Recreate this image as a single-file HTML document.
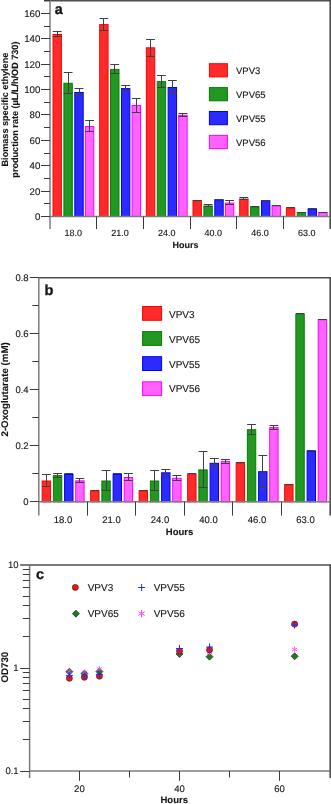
<!DOCTYPE html>
<html><head><meta charset="utf-8"><title>Figure</title>
<style>
html,body{margin:0;padding:0;background:#fff;width:331px;height:804px;overflow:hidden;}
svg{display:block;font-family:"Liberation Sans", sans-serif;will-change:transform;text-rendering:geometricPrecision;}
</style></head><body>
<svg width="331" height="804" viewBox="0 0 331 804">
<rect width="331" height="804" fill="#fff"/>
<rect x="53.00" y="34.50" width="8.40" height="182.00" fill="#ff2b2b" stroke="#ff0000" stroke-width="1"/>
<rect x="63.90" y="83.30" width="8.40" height="133.20" fill="#229722" stroke="#038003" stroke-width="1"/>
<rect x="74.80" y="92.50" width="8.40" height="124.00" fill="#2b2bff" stroke="#0000f0" stroke-width="1"/>
<rect x="85.40" y="126.50" width="8.40" height="90.00" fill="#ff62ff" stroke="#ff00ff" stroke-width="1"/>
<rect x="99.67" y="24.60" width="8.40" height="191.90" fill="#ff2b2b" stroke="#ff0000" stroke-width="1"/>
<rect x="110.57" y="69.40" width="8.40" height="147.10" fill="#229722" stroke="#038003" stroke-width="1"/>
<rect x="121.47" y="88.60" width="8.40" height="127.90" fill="#2b2bff" stroke="#0000f0" stroke-width="1"/>
<rect x="132.07" y="105.50" width="8.40" height="111.00" fill="#ff62ff" stroke="#ff00ff" stroke-width="1"/>
<rect x="146.33" y="47.80" width="8.40" height="168.70" fill="#ff2b2b" stroke="#ff0000" stroke-width="1"/>
<rect x="157.23" y="81.60" width="8.40" height="134.90" fill="#229722" stroke="#038003" stroke-width="1"/>
<rect x="168.13" y="87.50" width="8.40" height="129.00" fill="#2b2bff" stroke="#0000f0" stroke-width="1"/>
<rect x="178.73" y="115.30" width="8.40" height="101.20" fill="#ff62ff" stroke="#ff00ff" stroke-width="1"/>
<rect x="193.00" y="200.70" width="8.40" height="15.80" fill="#ff2b2b" stroke="#ff0000" stroke-width="1"/>
<rect x="203.90" y="206.00" width="8.40" height="10.50" fill="#229722" stroke="#038003" stroke-width="1"/>
<rect x="214.80" y="199.90" width="8.40" height="16.60" fill="#2b2bff" stroke="#0000f0" stroke-width="1"/>
<rect x="225.40" y="203.10" width="8.40" height="13.40" fill="#ff62ff" stroke="#ff00ff" stroke-width="1"/>
<rect x="239.67" y="199.10" width="8.40" height="17.40" fill="#ff2b2b" stroke="#ff0000" stroke-width="1"/>
<rect x="250.57" y="207.00" width="8.40" height="9.50" fill="#229722" stroke="#038003" stroke-width="1"/>
<rect x="261.47" y="200.70" width="8.40" height="15.80" fill="#2b2bff" stroke="#0000f0" stroke-width="1"/>
<rect x="272.07" y="205.90" width="8.40" height="10.60" fill="#ff62ff" stroke="#ff00ff" stroke-width="1"/>
<rect x="286.33" y="208.20" width="8.40" height="8.30" fill="#ff2b2b" stroke="#ff0000" stroke-width="1"/>
<rect x="297.23" y="212.50" width="8.40" height="4.00" fill="#229722" stroke="#038003" stroke-width="1"/>
<rect x="308.13" y="209.10" width="8.40" height="7.40" fill="#2b2bff" stroke="#0000f0" stroke-width="1"/>
<rect x="318.73" y="212.70" width="8.40" height="3.80" fill="#ff62ff" stroke="#ff00ff" stroke-width="1"/>
<line x1="52.80" y1="31.50" x2="61.60" y2="31.50" stroke="#404040" stroke-width="1.0"/>
<line x1="52.80" y1="36.50" x2="61.60" y2="36.50" stroke="#404040" stroke-width="1.0"/>
<line x1="57.50" y1="31.50" x2="57.50" y2="36.50" stroke="#404040" stroke-width="1.0"/>
<line x1="63.70" y1="72.50" x2="72.50" y2="72.50" stroke="#404040" stroke-width="1.0"/>
<line x1="63.70" y1="93.50" x2="72.50" y2="93.50" stroke="#404040" stroke-width="1.0"/>
<line x1="68.50" y1="72.50" x2="68.50" y2="93.50" stroke="#404040" stroke-width="1.0"/>
<line x1="74.60" y1="88.50" x2="83.40" y2="88.50" stroke="#404040" stroke-width="1.0"/>
<line x1="74.60" y1="95.50" x2="83.40" y2="95.50" stroke="#404040" stroke-width="1.0"/>
<line x1="79.50" y1="88.50" x2="79.50" y2="95.50" stroke="#404040" stroke-width="1.0"/>
<line x1="85.20" y1="120.50" x2="94.00" y2="120.50" stroke="#404040" stroke-width="1.0"/>
<line x1="85.20" y1="131.50" x2="94.00" y2="131.50" stroke="#404040" stroke-width="1.0"/>
<line x1="89.50" y1="120.50" x2="89.50" y2="131.50" stroke="#404040" stroke-width="1.0"/>
<line x1="99.47" y1="18.50" x2="108.27" y2="18.50" stroke="#404040" stroke-width="1.0"/>
<line x1="99.47" y1="30.50" x2="108.27" y2="30.50" stroke="#404040" stroke-width="1.0"/>
<line x1="103.50" y1="18.50" x2="103.50" y2="30.50" stroke="#404040" stroke-width="1.0"/>
<line x1="110.37" y1="64.50" x2="119.17" y2="64.50" stroke="#404040" stroke-width="1.0"/>
<line x1="110.37" y1="73.50" x2="119.17" y2="73.50" stroke="#404040" stroke-width="1.0"/>
<line x1="114.50" y1="64.50" x2="114.50" y2="73.50" stroke="#404040" stroke-width="1.0"/>
<line x1="121.27" y1="85.50" x2="130.07" y2="85.50" stroke="#404040" stroke-width="1.0"/>
<line x1="121.27" y1="90.50" x2="130.07" y2="90.50" stroke="#404040" stroke-width="1.0"/>
<line x1="125.50" y1="85.50" x2="125.50" y2="90.50" stroke="#404040" stroke-width="1.0"/>
<line x1="131.87" y1="98.50" x2="140.67" y2="98.50" stroke="#404040" stroke-width="1.0"/>
<line x1="131.87" y1="112.50" x2="140.67" y2="112.50" stroke="#404040" stroke-width="1.0"/>
<line x1="136.50" y1="98.50" x2="136.50" y2="112.50" stroke="#404040" stroke-width="1.0"/>
<line x1="146.13" y1="39.50" x2="154.93" y2="39.50" stroke="#404040" stroke-width="1.0"/>
<line x1="146.13" y1="56.50" x2="154.93" y2="56.50" stroke="#404040" stroke-width="1.0"/>
<line x1="150.50" y1="39.50" x2="150.50" y2="56.50" stroke="#404040" stroke-width="1.0"/>
<line x1="157.03" y1="75.50" x2="165.83" y2="75.50" stroke="#404040" stroke-width="1.0"/>
<line x1="157.03" y1="87.50" x2="165.83" y2="87.50" stroke="#404040" stroke-width="1.0"/>
<line x1="161.50" y1="75.50" x2="161.50" y2="87.50" stroke="#404040" stroke-width="1.0"/>
<line x1="167.93" y1="80.50" x2="176.73" y2="80.50" stroke="#404040" stroke-width="1.0"/>
<line x1="167.93" y1="93.50" x2="176.73" y2="93.50" stroke="#404040" stroke-width="1.0"/>
<line x1="172.50" y1="80.50" x2="172.50" y2="93.50" stroke="#404040" stroke-width="1.0"/>
<line x1="178.53" y1="113.50" x2="187.33" y2="113.50" stroke="#404040" stroke-width="1.0"/>
<line x1="178.53" y1="116.50" x2="187.33" y2="116.50" stroke="#404040" stroke-width="1.0"/>
<line x1="182.50" y1="113.50" x2="182.50" y2="116.50" stroke="#404040" stroke-width="1.0"/>
<line x1="192.80" y1="200.50" x2="201.60" y2="200.50" stroke="#404040" stroke-width="1.0"/>
<line x1="203.70" y1="204.50" x2="212.50" y2="204.50" stroke="#404040" stroke-width="1.0"/>
<line x1="203.70" y1="206.50" x2="212.50" y2="206.50" stroke="#404040" stroke-width="1.0"/>
<line x1="208.50" y1="204.50" x2="208.50" y2="206.50" stroke="#404040" stroke-width="1.0"/>
<line x1="214.60" y1="199.50" x2="223.40" y2="199.50" stroke="#404040" stroke-width="1.0"/>
<line x1="225.20" y1="200.50" x2="234.00" y2="200.50" stroke="#404040" stroke-width="1.0"/>
<line x1="225.20" y1="204.50" x2="234.00" y2="204.50" stroke="#404040" stroke-width="1.0"/>
<line x1="229.50" y1="200.50" x2="229.50" y2="204.50" stroke="#404040" stroke-width="1.0"/>
<line x1="239.47" y1="197.50" x2="248.27" y2="197.50" stroke="#404040" stroke-width="1.0"/>
<line x1="239.47" y1="199.50" x2="248.27" y2="199.50" stroke="#404040" stroke-width="1.0"/>
<line x1="243.50" y1="197.50" x2="243.50" y2="199.50" stroke="#404040" stroke-width="1.0"/>
<line x1="250.37" y1="206.50" x2="259.17" y2="206.50" stroke="#404040" stroke-width="1.0"/>
<line x1="261.27" y1="200.50" x2="270.07" y2="200.50" stroke="#404040" stroke-width="1.0"/>
<line x1="271.87" y1="205.50" x2="280.67" y2="205.50" stroke="#404040" stroke-width="1.0"/>
<line x1="286.13" y1="207.50" x2="294.93" y2="207.50" stroke="#404040" stroke-width="1.0"/>
<line x1="297.03" y1="212.50" x2="305.83" y2="212.50" stroke="#404040" stroke-width="1.0"/>
<line x1="307.93" y1="208.50" x2="316.73" y2="208.50" stroke="#404040" stroke-width="1.0"/>
<line x1="318.53" y1="212.50" x2="327.33" y2="212.50" stroke="#404040" stroke-width="1.0"/>
<line x1="44.00" y1="0.80" x2="331.00" y2="0.80" stroke="#4e4e4e" stroke-width="1.6"/>
<line x1="330.20" y1="0.00" x2="330.20" y2="229.00" stroke="#4e4e4e" stroke-width="1.6"/>
<line x1="50.00" y1="0.00" x2="50.00" y2="229.00" stroke="#7c7c7c" stroke-width="1.5"/>
<line x1="50.00" y1="216.50" x2="330.00" y2="216.50" stroke="#7c7c7c" stroke-width="1.5"/>
<line x1="41.00" y1="216.50" x2="50.00" y2="216.50" stroke="#3a3a3a" stroke-width="1.0"/>
<text x="40.30" y="219.90" font-size="9.7" text-anchor="end" stroke="#161616" stroke-width="0.12" fill="#161616">0</text>
<line x1="44.00" y1="203.50" x2="50.00" y2="203.50" stroke="#3a3a3a" stroke-width="1.0"/>
<line x1="41.00" y1="191.50" x2="50.00" y2="191.50" stroke="#3a3a3a" stroke-width="1.0"/>
<text x="40.30" y="194.50" font-size="9.7" text-anchor="end" stroke="#161616" stroke-width="0.12" fill="#161616">20</text>
<line x1="44.00" y1="178.50" x2="50.00" y2="178.50" stroke="#3a3a3a" stroke-width="1.0"/>
<line x1="41.00" y1="165.50" x2="50.00" y2="165.50" stroke="#3a3a3a" stroke-width="1.0"/>
<text x="40.30" y="169.10" font-size="9.7" text-anchor="end" stroke="#161616" stroke-width="0.12" fill="#161616">40</text>
<line x1="44.00" y1="153.50" x2="50.00" y2="153.50" stroke="#3a3a3a" stroke-width="1.0"/>
<line x1="41.00" y1="140.50" x2="50.00" y2="140.50" stroke="#3a3a3a" stroke-width="1.0"/>
<text x="40.30" y="143.70" font-size="9.7" text-anchor="end" stroke="#161616" stroke-width="0.12" fill="#161616">60</text>
<line x1="44.00" y1="127.50" x2="50.00" y2="127.50" stroke="#3a3a3a" stroke-width="1.0"/>
<line x1="41.00" y1="114.50" x2="50.00" y2="114.50" stroke="#3a3a3a" stroke-width="1.0"/>
<text x="40.30" y="118.30" font-size="9.7" text-anchor="end" stroke="#161616" stroke-width="0.12" fill="#161616">80</text>
<line x1="44.00" y1="102.50" x2="50.00" y2="102.50" stroke="#3a3a3a" stroke-width="1.0"/>
<line x1="41.00" y1="89.50" x2="50.00" y2="89.50" stroke="#3a3a3a" stroke-width="1.0"/>
<text x="40.30" y="92.90" font-size="9.7" text-anchor="end" stroke="#161616" stroke-width="0.12" fill="#161616">100</text>
<line x1="44.00" y1="76.50" x2="50.00" y2="76.50" stroke="#3a3a3a" stroke-width="1.0"/>
<line x1="41.00" y1="64.50" x2="50.00" y2="64.50" stroke="#3a3a3a" stroke-width="1.0"/>
<text x="40.30" y="67.50" font-size="9.7" text-anchor="end" stroke="#161616" stroke-width="0.12" fill="#161616">120</text>
<line x1="44.00" y1="51.50" x2="50.00" y2="51.50" stroke="#3a3a3a" stroke-width="1.0"/>
<line x1="41.00" y1="38.50" x2="50.00" y2="38.50" stroke="#3a3a3a" stroke-width="1.0"/>
<text x="40.30" y="42.10" font-size="9.7" text-anchor="end" stroke="#161616" stroke-width="0.12" fill="#161616">140</text>
<line x1="44.00" y1="26.50" x2="50.00" y2="26.50" stroke="#3a3a3a" stroke-width="1.0"/>
<line x1="41.00" y1="13.50" x2="50.00" y2="13.50" stroke="#3a3a3a" stroke-width="1.0"/>
<text x="40.30" y="16.70" font-size="9.7" text-anchor="end" stroke="#161616" stroke-width="0.12" fill="#161616">160</text>
<line x1="44.00" y1="0.50" x2="50.00" y2="0.50" stroke="#3a3a3a" stroke-width="1.0"/>
<line x1="96.50" y1="216.50" x2="96.50" y2="229.00" stroke="#3a3a3a" stroke-width="1.0"/>
<line x1="143.50" y1="216.50" x2="143.50" y2="229.00" stroke="#3a3a3a" stroke-width="1.0"/>
<line x1="190.50" y1="216.50" x2="190.50" y2="229.00" stroke="#3a3a3a" stroke-width="1.0"/>
<line x1="236.50" y1="216.50" x2="236.50" y2="229.00" stroke="#3a3a3a" stroke-width="1.0"/>
<line x1="283.50" y1="216.50" x2="283.50" y2="229.00" stroke="#3a3a3a" stroke-width="1.0"/>
<text x="73.33" y="236.30" font-size="9" text-anchor="middle" stroke="#161616" stroke-width="0.12" fill="#161616">18.0</text>
<text x="120.00" y="236.30" font-size="9" text-anchor="middle" stroke="#161616" stroke-width="0.12" fill="#161616">21.0</text>
<text x="166.67" y="236.30" font-size="9" text-anchor="middle" stroke="#161616" stroke-width="0.12" fill="#161616">24.0</text>
<text x="213.33" y="236.30" font-size="9" text-anchor="middle" stroke="#161616" stroke-width="0.12" fill="#161616">40.0</text>
<text x="260.00" y="236.30" font-size="9" text-anchor="middle" stroke="#161616" stroke-width="0.12" fill="#161616">46.0</text>
<text x="306.67" y="236.30" font-size="9" text-anchor="middle" stroke="#161616" stroke-width="0.12" fill="#161616">63.0</text>
<text x="185.40" y="248.10" font-size="9" text-anchor="middle" font-weight="bold" stroke="#161616" stroke-width="0.12" fill="#161616">Hours</text>
<text x="54.80" y="14.00" font-size="14.4" text-anchor="start" font-weight="bold" stroke="#161616" stroke-width="0.3" fill="#161616">a</text>
<text x="7.90" y="109.60" font-size="9.1" text-anchor="middle" font-weight="bold" transform="rotate(-90 7.90 109.60)" stroke="#161616" stroke-width="0.12" fill="#161616">Biomass specific ethylene</text>
<text x="18.10" y="109.60" font-size="9.1" text-anchor="middle" font-weight="bold" transform="rotate(-90 18.10 109.60)" stroke="#161616" stroke-width="0.12" fill="#161616">production rate (µL/L/h/OD 730)</text>
<rect x="209.40" y="63.70" width="18.00" height="13.20" fill="#ff2b2b" stroke="#ff0000" stroke-width="1"/>
<text x="236.00" y="73.80" font-size="9.5" text-anchor="start" stroke="#161616" stroke-width="0.12" fill="#161616">VPV3</text>
<rect x="209.40" y="87.60" width="18.00" height="13.20" fill="#229722" stroke="#038003" stroke-width="1"/>
<text x="236.00" y="97.80" font-size="9.5" text-anchor="start" stroke="#161616" stroke-width="0.12" fill="#161616">VPV65</text>
<rect x="209.40" y="111.50" width="18.00" height="13.20" fill="#2b2bff" stroke="#0000f0" stroke-width="1"/>
<text x="236.00" y="121.80" font-size="9.5" text-anchor="start" stroke="#161616" stroke-width="0.12" fill="#161616">VPV55</text>
<rect x="209.40" y="135.40" width="18.00" height="13.20" fill="#ff62ff" stroke="#ff00ff" stroke-width="1"/>
<text x="236.00" y="145.80" font-size="9.5" text-anchor="start" stroke="#161616" stroke-width="0.12" fill="#161616">VPV56</text>
<rect x="42.15" y="481.00" width="8.40" height="20.80" fill="#ff2b2b" stroke="#ff0000" stroke-width="1"/>
<rect x="53.35" y="475.60" width="8.40" height="26.20" fill="#229722" stroke="#038003" stroke-width="1"/>
<rect x="64.60" y="474.40" width="8.40" height="27.40" fill="#2b2bff" stroke="#0000f0" stroke-width="1"/>
<rect x="75.70" y="480.80" width="8.40" height="21.00" fill="#ff62ff" stroke="#ff00ff" stroke-width="1"/>
<rect x="90.65" y="491.10" width="8.40" height="10.70" fill="#ff2b2b" stroke="#ff0000" stroke-width="1"/>
<rect x="101.85" y="481.00" width="8.40" height="20.80" fill="#229722" stroke="#038003" stroke-width="1"/>
<rect x="113.10" y="474.40" width="8.40" height="27.40" fill="#2b2bff" stroke="#0000f0" stroke-width="1"/>
<rect x="124.20" y="477.50" width="8.40" height="24.30" fill="#ff62ff" stroke="#ff00ff" stroke-width="1"/>
<rect x="139.15" y="491.10" width="8.40" height="10.70" fill="#ff2b2b" stroke="#ff0000" stroke-width="1"/>
<rect x="150.35" y="481.00" width="8.40" height="20.80" fill="#229722" stroke="#038003" stroke-width="1"/>
<rect x="161.60" y="472.80" width="8.40" height="29.00" fill="#2b2bff" stroke="#0000f0" stroke-width="1"/>
<rect x="172.70" y="478.30" width="8.40" height="23.50" fill="#ff62ff" stroke="#ff00ff" stroke-width="1"/>
<rect x="187.65" y="474.30" width="8.40" height="27.50" fill="#ff2b2b" stroke="#ff0000" stroke-width="1"/>
<rect x="198.85" y="469.90" width="8.40" height="31.90" fill="#229722" stroke="#038003" stroke-width="1"/>
<rect x="210.10" y="463.30" width="8.40" height="38.50" fill="#2b2bff" stroke="#0000f0" stroke-width="1"/>
<rect x="221.20" y="461.40" width="8.40" height="40.40" fill="#ff62ff" stroke="#ff00ff" stroke-width="1"/>
<rect x="236.15" y="463.00" width="8.40" height="38.80" fill="#ff2b2b" stroke="#ff0000" stroke-width="1"/>
<rect x="247.35" y="429.70" width="8.40" height="72.10" fill="#229722" stroke="#038003" stroke-width="1"/>
<rect x="258.60" y="471.70" width="8.40" height="30.10" fill="#2b2bff" stroke="#0000f0" stroke-width="1"/>
<rect x="269.70" y="427.60" width="8.40" height="74.20" fill="#ff62ff" stroke="#ff00ff" stroke-width="1"/>
<rect x="284.65" y="484.70" width="8.40" height="17.10" fill="#ff2b2b" stroke="#ff0000" stroke-width="1"/>
<rect x="295.85" y="314.30" width="8.40" height="187.50" fill="#229722" stroke="#038003" stroke-width="1"/>
<rect x="307.10" y="451.30" width="8.40" height="50.50" fill="#2b2bff" stroke="#0000f0" stroke-width="1"/>
<rect x="318.20" y="319.70" width="8.40" height="182.10" fill="#ff62ff" stroke="#ff00ff" stroke-width="1"/>
<line x1="41.95" y1="474.50" x2="50.75" y2="474.50" stroke="#404040" stroke-width="1.0"/>
<line x1="41.95" y1="486.50" x2="50.75" y2="486.50" stroke="#404040" stroke-width="1.0"/>
<line x1="46.50" y1="474.50" x2="46.50" y2="486.50" stroke="#404040" stroke-width="1.0"/>
<line x1="53.15" y1="473.50" x2="61.95" y2="473.50" stroke="#404040" stroke-width="1.0"/>
<line x1="53.15" y1="477.50" x2="61.95" y2="477.50" stroke="#404040" stroke-width="1.0"/>
<line x1="57.50" y1="473.50" x2="57.50" y2="477.50" stroke="#404040" stroke-width="1.0"/>
<line x1="64.40" y1="473.50" x2="73.20" y2="473.50" stroke="#404040" stroke-width="1.0"/>
<line x1="75.50" y1="478.50" x2="84.30" y2="478.50" stroke="#404040" stroke-width="1.0"/>
<line x1="75.50" y1="482.50" x2="84.30" y2="482.50" stroke="#404040" stroke-width="1.0"/>
<line x1="79.50" y1="478.50" x2="79.50" y2="482.50" stroke="#404040" stroke-width="1.0"/>
<line x1="90.45" y1="490.50" x2="99.25" y2="490.50" stroke="#404040" stroke-width="1.0"/>
<line x1="101.65" y1="470.50" x2="110.45" y2="470.50" stroke="#404040" stroke-width="1.0"/>
<line x1="101.65" y1="490.50" x2="110.45" y2="490.50" stroke="#404040" stroke-width="1.0"/>
<line x1="106.50" y1="470.50" x2="106.50" y2="490.50" stroke="#404040" stroke-width="1.0"/>
<line x1="112.90" y1="473.50" x2="121.70" y2="473.50" stroke="#404040" stroke-width="1.0"/>
<line x1="124.00" y1="473.50" x2="132.80" y2="473.50" stroke="#404040" stroke-width="1.0"/>
<line x1="124.00" y1="480.50" x2="132.80" y2="480.50" stroke="#404040" stroke-width="1.0"/>
<line x1="128.50" y1="473.50" x2="128.50" y2="480.50" stroke="#404040" stroke-width="1.0"/>
<line x1="138.95" y1="490.50" x2="147.75" y2="490.50" stroke="#404040" stroke-width="1.0"/>
<line x1="150.15" y1="470.50" x2="158.95" y2="470.50" stroke="#404040" stroke-width="1.0"/>
<line x1="150.15" y1="490.50" x2="158.95" y2="490.50" stroke="#404040" stroke-width="1.0"/>
<line x1="154.50" y1="470.50" x2="154.50" y2="490.50" stroke="#404040" stroke-width="1.0"/>
<line x1="161.40" y1="469.50" x2="170.20" y2="469.50" stroke="#404040" stroke-width="1.0"/>
<line x1="161.40" y1="474.50" x2="170.20" y2="474.50" stroke="#404040" stroke-width="1.0"/>
<line x1="165.50" y1="469.50" x2="165.50" y2="474.50" stroke="#404040" stroke-width="1.0"/>
<line x1="172.50" y1="475.50" x2="181.30" y2="475.50" stroke="#404040" stroke-width="1.0"/>
<line x1="172.50" y1="480.50" x2="181.30" y2="480.50" stroke="#404040" stroke-width="1.0"/>
<line x1="176.50" y1="475.50" x2="176.50" y2="480.50" stroke="#404040" stroke-width="1.0"/>
<line x1="187.45" y1="473.50" x2="196.25" y2="473.50" stroke="#404040" stroke-width="1.0"/>
<line x1="198.65" y1="451.50" x2="207.45" y2="451.50" stroke="#404040" stroke-width="1.0"/>
<line x1="198.65" y1="487.50" x2="207.45" y2="487.50" stroke="#404040" stroke-width="1.0"/>
<line x1="203.50" y1="451.50" x2="203.50" y2="487.50" stroke="#404040" stroke-width="1.0"/>
<line x1="209.90" y1="458.50" x2="218.70" y2="458.50" stroke="#404040" stroke-width="1.0"/>
<line x1="209.90" y1="466.50" x2="218.70" y2="466.50" stroke="#404040" stroke-width="1.0"/>
<line x1="214.50" y1="458.50" x2="214.50" y2="466.50" stroke="#404040" stroke-width="1.0"/>
<line x1="221.00" y1="459.50" x2="229.80" y2="459.50" stroke="#404040" stroke-width="1.0"/>
<line x1="221.00" y1="463.50" x2="229.80" y2="463.50" stroke="#404040" stroke-width="1.0"/>
<line x1="225.50" y1="459.50" x2="225.50" y2="463.50" stroke="#404040" stroke-width="1.0"/>
<line x1="235.95" y1="462.50" x2="244.75" y2="462.50" stroke="#404040" stroke-width="1.0"/>
<line x1="247.15" y1="424.50" x2="255.95" y2="424.50" stroke="#404040" stroke-width="1.0"/>
<line x1="247.15" y1="434.50" x2="255.95" y2="434.50" stroke="#404040" stroke-width="1.0"/>
<line x1="251.50" y1="424.50" x2="251.50" y2="434.50" stroke="#404040" stroke-width="1.0"/>
<line x1="258.40" y1="455.50" x2="267.20" y2="455.50" stroke="#404040" stroke-width="1.0"/>
<line x1="258.40" y1="487.50" x2="267.20" y2="487.50" stroke="#404040" stroke-width="1.0"/>
<line x1="262.50" y1="455.50" x2="262.50" y2="487.50" stroke="#404040" stroke-width="1.0"/>
<line x1="269.50" y1="425.50" x2="278.30" y2="425.50" stroke="#404040" stroke-width="1.0"/>
<line x1="269.50" y1="429.50" x2="278.30" y2="429.50" stroke="#404040" stroke-width="1.0"/>
<line x1="273.50" y1="425.50" x2="273.50" y2="429.50" stroke="#404040" stroke-width="1.0"/>
<line x1="284.45" y1="484.50" x2="293.25" y2="484.50" stroke="#404040" stroke-width="1.0"/>
<line x1="295.65" y1="313.50" x2="304.45" y2="313.50" stroke="#404040" stroke-width="1.0"/>
<line x1="306.90" y1="450.50" x2="315.70" y2="450.50" stroke="#404040" stroke-width="1.0"/>
<line x1="318.00" y1="319.50" x2="326.80" y2="319.50" stroke="#404040" stroke-width="1.0"/>
<line x1="38.80" y1="277.80" x2="331.00" y2="277.80" stroke="#4e4e4e" stroke-width="1.4"/>
<line x1="330.20" y1="277.80" x2="330.20" y2="515.60" stroke="#4e4e4e" stroke-width="1.6"/>
<line x1="38.80" y1="277.80" x2="38.80" y2="515.60" stroke="#7c7c7c" stroke-width="1.5"/>
<line x1="38.80" y1="501.80" x2="329.80" y2="501.80" stroke="#7c7c7c" stroke-width="1.5"/>
<line x1="29.80" y1="501.50" x2="38.80" y2="501.50" stroke="#3a3a3a" stroke-width="1.0"/>
<text x="28.60" y="505.10" font-size="9.5" text-anchor="end" stroke="#161616" stroke-width="0.12" fill="#161616">0</text>
<line x1="32.30" y1="473.50" x2="38.80" y2="473.50" stroke="#3a3a3a" stroke-width="1.0"/>
<line x1="29.80" y1="445.50" x2="38.80" y2="445.50" stroke="#3a3a3a" stroke-width="1.0"/>
<text x="28.60" y="449.10" font-size="9.5" text-anchor="end" stroke="#161616" stroke-width="0.12" fill="#161616">0.2</text>
<line x1="32.30" y1="417.50" x2="38.80" y2="417.50" stroke="#3a3a3a" stroke-width="1.0"/>
<line x1="29.80" y1="389.50" x2="38.80" y2="389.50" stroke="#3a3a3a" stroke-width="1.0"/>
<text x="28.60" y="393.10" font-size="9.5" text-anchor="end" stroke="#161616" stroke-width="0.12" fill="#161616">0.4</text>
<line x1="32.30" y1="361.50" x2="38.80" y2="361.50" stroke="#3a3a3a" stroke-width="1.0"/>
<line x1="29.80" y1="333.50" x2="38.80" y2="333.50" stroke="#3a3a3a" stroke-width="1.0"/>
<text x="28.60" y="337.10" font-size="9.5" text-anchor="end" stroke="#161616" stroke-width="0.12" fill="#161616">0.6</text>
<line x1="32.30" y1="305.50" x2="38.80" y2="305.50" stroke="#3a3a3a" stroke-width="1.0"/>
<line x1="29.80" y1="277.50" x2="38.80" y2="277.50" stroke="#3a3a3a" stroke-width="1.0"/>
<text x="28.60" y="281.10" font-size="9.5" text-anchor="end" stroke="#161616" stroke-width="0.12" fill="#161616">0.8</text>
<line x1="87.50" y1="501.80" x2="87.50" y2="515.60" stroke="#3a3a3a" stroke-width="1.0"/>
<line x1="135.50" y1="501.80" x2="135.50" y2="515.60" stroke="#3a3a3a" stroke-width="1.0"/>
<line x1="184.50" y1="501.80" x2="184.50" y2="515.60" stroke="#3a3a3a" stroke-width="1.0"/>
<line x1="232.50" y1="501.80" x2="232.50" y2="515.60" stroke="#3a3a3a" stroke-width="1.0"/>
<line x1="281.50" y1="501.80" x2="281.50" y2="515.60" stroke="#3a3a3a" stroke-width="1.0"/>
<text x="63.05" y="522.80" font-size="9.5" text-anchor="middle" stroke="#161616" stroke-width="0.12" fill="#161616">18.0</text>
<text x="111.55" y="522.80" font-size="9.5" text-anchor="middle" stroke="#161616" stroke-width="0.12" fill="#161616">21.0</text>
<text x="160.05" y="522.80" font-size="9.5" text-anchor="middle" stroke="#161616" stroke-width="0.12" fill="#161616">24.0</text>
<text x="208.55" y="522.80" font-size="9.5" text-anchor="middle" stroke="#161616" stroke-width="0.12" fill="#161616">40.0</text>
<text x="257.05" y="522.80" font-size="9.5" text-anchor="middle" stroke="#161616" stroke-width="0.12" fill="#161616">46.0</text>
<text x="305.55" y="522.80" font-size="9.5" text-anchor="middle" stroke="#161616" stroke-width="0.12" fill="#161616">63.0</text>
<text x="179.60" y="534.90" font-size="9.5" text-anchor="middle" font-weight="bold" stroke="#161616" stroke-width="0.12" fill="#161616">Hours</text>
<text x="44.40" y="294.90" font-size="14.6" text-anchor="start" font-weight="bold" stroke="#161616" stroke-width="0.3" fill="#161616">b</text>
<text x="7.70" y="389.40" font-size="9.7" text-anchor="middle" font-weight="bold" transform="rotate(-90 7.70 389.40)" stroke="#161616" stroke-width="0.12" fill="#161616">2-Oxoglutarate (mM)</text>
<rect x="142.60" y="306.50" width="19.00" height="13.80" fill="#ff2b2b" stroke="#ff0000" stroke-width="1"/>
<text x="169.00" y="317.70" font-size="10" text-anchor="start" stroke="#161616" stroke-width="0.12" fill="#161616">VPV3</text>
<rect x="142.60" y="331.60" width="19.00" height="13.80" fill="#229722" stroke="#038003" stroke-width="1"/>
<text x="169.00" y="342.60" font-size="10" text-anchor="start" stroke="#161616" stroke-width="0.12" fill="#161616">VPV65</text>
<rect x="142.60" y="356.70" width="19.00" height="13.80" fill="#2b2bff" stroke="#0000f0" stroke-width="1"/>
<text x="169.00" y="367.50" font-size="10" text-anchor="start" stroke="#161616" stroke-width="0.12" fill="#161616">VPV55</text>
<rect x="142.60" y="381.80" width="19.00" height="13.80" fill="#ff62ff" stroke="#ff00ff" stroke-width="1"/>
<text x="169.00" y="392.40" font-size="10" text-anchor="start" stroke="#161616" stroke-width="0.12" fill="#161616">VPV56</text>
<line x1="20.10" y1="565.00" x2="331.00" y2="565.00" stroke="#4e4e4e" stroke-width="1.4"/>
<line x1="330.20" y1="565.00" x2="330.20" y2="778.00" stroke="#4e4e4e" stroke-width="1.6"/>
<line x1="29.60" y1="565.00" x2="29.60" y2="778.00" stroke="#7c7c7c" stroke-width="1.5"/>
<line x1="29.60" y1="771.00" x2="330.00" y2="771.00" stroke="#7c7c7c" stroke-width="1.5"/>
<line x1="20.10" y1="771.50" x2="29.60" y2="771.50" stroke="#3a3a3a" stroke-width="1.0"/>
<line x1="20.10" y1="668.50" x2="29.60" y2="668.50" stroke="#3a3a3a" stroke-width="1.0"/>
<text x="18.60" y="568.40" font-size="9.5" text-anchor="end" stroke="#161616" stroke-width="0.12" fill="#161616">10</text>
<text x="18.60" y="671.40" font-size="9.5" text-anchor="end" stroke="#161616" stroke-width="0.12" fill="#161616">1</text>
<text x="18.60" y="774.40" font-size="9.5" text-anchor="end" stroke="#161616" stroke-width="0.12" fill="#161616">0.1</text>
<line x1="22.80" y1="739.50" x2="29.60" y2="739.50" stroke="#3a3a3a" stroke-width="1.0"/>
<line x1="22.80" y1="721.50" x2="29.60" y2="721.50" stroke="#3a3a3a" stroke-width="1.0"/>
<line x1="22.80" y1="708.50" x2="29.60" y2="708.50" stroke="#3a3a3a" stroke-width="1.0"/>
<line x1="22.80" y1="699.50" x2="29.60" y2="699.50" stroke="#3a3a3a" stroke-width="1.0"/>
<line x1="22.80" y1="690.50" x2="29.60" y2="690.50" stroke="#3a3a3a" stroke-width="1.0"/>
<line x1="22.80" y1="683.50" x2="29.60" y2="683.50" stroke="#3a3a3a" stroke-width="1.0"/>
<line x1="22.80" y1="677.50" x2="29.60" y2="677.50" stroke="#3a3a3a" stroke-width="1.0"/>
<line x1="22.80" y1="672.50" x2="29.60" y2="672.50" stroke="#3a3a3a" stroke-width="1.0"/>
<line x1="22.80" y1="636.50" x2="29.60" y2="636.50" stroke="#3a3a3a" stroke-width="1.0"/>
<line x1="22.80" y1="618.50" x2="29.60" y2="618.50" stroke="#3a3a3a" stroke-width="1.0"/>
<line x1="22.80" y1="605.50" x2="29.60" y2="605.50" stroke="#3a3a3a" stroke-width="1.0"/>
<line x1="22.80" y1="596.50" x2="29.60" y2="596.50" stroke="#3a3a3a" stroke-width="1.0"/>
<line x1="22.80" y1="587.50" x2="29.60" y2="587.50" stroke="#3a3a3a" stroke-width="1.0"/>
<line x1="22.80" y1="580.50" x2="29.60" y2="580.50" stroke="#3a3a3a" stroke-width="1.0"/>
<line x1="22.80" y1="574.50" x2="29.60" y2="574.50" stroke="#3a3a3a" stroke-width="1.0"/>
<line x1="22.80" y1="569.50" x2="29.60" y2="569.50" stroke="#3a3a3a" stroke-width="1.0"/>
<line x1="79.50" y1="771.00" x2="79.50" y2="780.80" stroke="#3a3a3a" stroke-width="1.0"/>
<text x="79.40" y="792.00" font-size="9.5" text-anchor="middle" stroke="#161616" stroke-width="0.12" fill="#161616">20</text>
<line x1="179.50" y1="771.00" x2="179.50" y2="780.80" stroke="#3a3a3a" stroke-width="1.0"/>
<text x="179.50" y="792.00" font-size="9.5" text-anchor="middle" stroke="#161616" stroke-width="0.12" fill="#161616">40</text>
<line x1="279.50" y1="771.00" x2="279.50" y2="780.80" stroke="#3a3a3a" stroke-width="1.0"/>
<text x="279.60" y="792.00" font-size="9.5" text-anchor="middle" stroke="#161616" stroke-width="0.12" fill="#161616">60</text>
<line x1="129.50" y1="771.00" x2="129.50" y2="777.50" stroke="#3a3a3a" stroke-width="1.0"/>
<line x1="229.50" y1="771.00" x2="229.50" y2="777.50" stroke="#3a3a3a" stroke-width="1.0"/>
<text x="174.20" y="803.00" font-size="9.5" text-anchor="middle" font-weight="bold" stroke="#161616" stroke-width="0.12" fill="#161616">Hours</text>
<text x="35.90" y="579.00" font-size="14.5" text-anchor="start" font-weight="bold" stroke="#161616" stroke-width="0.3" fill="#161616">c</text>
<text x="7.70" y="667.20" font-size="9.7" text-anchor="middle" font-weight="bold" transform="rotate(-90 7.70 667.20)" stroke="#161616" stroke-width="0.12" fill="#161616">OD730</text>
<path d="M69.39 668.20L72.89 671.70L69.39 675.20L65.89 671.70Z" fill="#1c7a1c" stroke="#1a2e1a" stroke-width="0.7"/>
<path d="M84.41 670.10L87.91 673.60L84.41 677.10L80.91 673.60Z" fill="#1c7a1c" stroke="#1a2e1a" stroke-width="0.7"/>
<path d="M99.42 668.10L102.92 671.60L99.42 675.10L95.92 671.60Z" fill="#1c7a1c" stroke="#1a2e1a" stroke-width="0.7"/>
<path d="M179.50 650.50L183.00 654.00L179.50 657.50L176.00 654.00Z" fill="#1c7a1c" stroke="#1a2e1a" stroke-width="0.7"/>
<path d="M209.53 653.20L213.03 656.70L209.53 660.20L206.03 656.70Z" fill="#1c7a1c" stroke="#1a2e1a" stroke-width="0.7"/>
<path d="M294.62 652.80L298.12 656.30L294.62 659.80L291.12 656.30Z" fill="#1c7a1c" stroke="#1a2e1a" stroke-width="0.7"/>
<path d="M69.39 674.70L69.39 668.70M66.79 673.20L71.99 670.20M66.79 670.20L71.99 673.20" stroke="#ff3cff" stroke-width="0.8" fill="none"/>
<path d="M84.41 675.60L84.41 669.60M81.81 674.10L87.00 671.10M81.81 671.10L87.00 674.10" stroke="#ff3cff" stroke-width="0.8" fill="none"/>
<path d="M99.42 672.00L99.42 666.00M96.82 670.50L102.02 667.50M96.82 667.50L102.02 670.50" stroke="#ff3cff" stroke-width="0.8" fill="none"/>
<path d="M179.50 655.40L179.50 649.40M176.90 653.90L182.10 650.90M176.90 650.90L182.10 653.90" stroke="#ff3cff" stroke-width="0.8" fill="none"/>
<path d="M209.53 655.40L209.53 649.40M206.93 653.90L212.13 650.90M206.93 650.90L212.13 653.90" stroke="#ff3cff" stroke-width="0.8" fill="none"/>
<path d="M294.62 652.50L294.62 646.50M292.02 651.00L297.21 648.00M292.02 648.00L297.21 651.00" stroke="#ff3cff" stroke-width="0.8" fill="none"/>
<circle cx="69.39" cy="678.30" r="3.0" fill="#f01414" stroke="#3a1a1a" stroke-width="0.7"/>
<circle cx="84.41" cy="677.30" r="3.0" fill="#f01414" stroke="#3a1a1a" stroke-width="0.7"/>
<circle cx="99.42" cy="676.20" r="3.0" fill="#f01414" stroke="#3a1a1a" stroke-width="0.7"/>
<circle cx="179.50" cy="651.10" r="3.0" fill="#f01414" stroke="#3a1a1a" stroke-width="0.7"/>
<circle cx="209.53" cy="649.90" r="3.0" fill="#f01414" stroke="#3a1a1a" stroke-width="0.7"/>
<circle cx="294.62" cy="624.10" r="3.0" fill="#f01414" stroke="#3a1a1a" stroke-width="0.7"/>
<path d="M65.89 675.40H72.89M69.39 671.90V678.90" stroke="#2a2aff" stroke-width="1.0" fill="none"/>
<path d="M80.91 676.00H87.91M84.41 672.50V679.50" stroke="#2a2aff" stroke-width="1.0" fill="none"/>
<path d="M95.92 674.40H102.92M99.42 670.90V677.90" stroke="#2a2aff" stroke-width="1.0" fill="none"/>
<path d="M176.00 648.50H183.00M179.50 645.00V652.00" stroke="#2a2aff" stroke-width="1.0" fill="none"/>
<path d="M206.03 647.00H213.03M209.53 643.50V650.50" stroke="#2a2aff" stroke-width="1.0" fill="none"/>
<path d="M291.12 625.00H298.12M294.62 621.50V628.50" stroke="#2a2aff" stroke-width="1.0" fill="none"/>
<circle cx="75.30" cy="587.40" r="3.0" fill="#f01414" stroke="#3a1a1a" stroke-width="0.7"/>
<text x="87.70" y="591.10" font-size="10" text-anchor="start" stroke="#161616" stroke-width="0.12" fill="#161616">VPV3</text>
<path d="M75.90 610.20L79.40 613.70L75.90 617.20L72.40 613.70Z" fill="#1c7a1c" stroke="#1a2e1a" stroke-width="0.7"/>
<text x="87.70" y="617.30" font-size="10" text-anchor="start" stroke="#161616" stroke-width="0.12" fill="#161616">VPV65</text>
<path d="M138.10 587.50H145.10M141.60 584.00V591.00" stroke="#2a2aff" stroke-width="1.0" fill="none"/>
<text x="153.70" y="591.10" font-size="10" text-anchor="start" stroke="#161616" stroke-width="0.12" fill="#161616">VPV55</text>
<path d="M141.60 617.10L141.60 609.90M138.48 615.30L144.72 611.70M138.48 611.70L144.72 615.30" stroke="#ff3cff" stroke-width="1.0" fill="none"/>
<text x="153.70" y="617.30" font-size="10" text-anchor="start" stroke="#161616" stroke-width="0.12" fill="#161616">VPV56</text>
</svg>
</body></html>
